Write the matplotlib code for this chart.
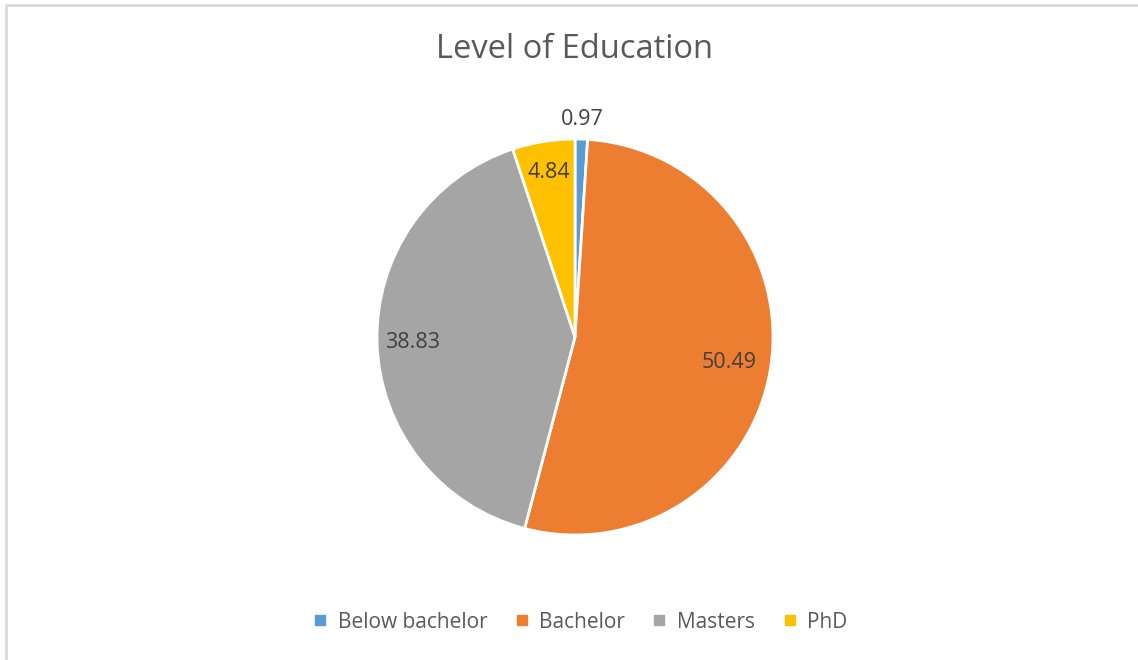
import numpy as np
import matplotlib.pyplot as plt
from matplotlib.lines import Line2D
from matplotlib.patches import Rectangle

categories = ['Below bachelor', 'Bachelor', 'Masters', 'PhD']
values = [0.97, 50.49, 38.83, 4.84]
value_labels = ['0.97', '50.49', '38.83', '4.84']
colors = ['#5B9BD5', '#ED7D31', '#A5A5A5', '#FFC000']
label_dist = [1.10, 0.79, 0.82, 0.84]

plt.rcParams['font.family'] = ['Open Sans', 'DejaVu Sans']

W, H = 1138, 660
fig = plt.figure(figsize=(W / 100, H / 100), dpi=100)

# chart area border (only top/left visible in the original crop)
fig.patches.append(Rectangle((6 / W, -0.1), 1.2, 1 - 5 / H + 0.1, transform=fig.transFigure,
                             fill=False, edgecolor='#d9d9d9', linewidth=2))

cx, cy, r = 575, 337, 198
ax = fig.add_axes([(cx - r) / W, (H - cy - r) / H, 2 * r / W, 2 * r / H])
wedges, _ = ax.pie(values, colors=colors, startangle=90, counterclock=False, radius=1,
                   wedgeprops=dict(edgecolor='white', linewidth=2))
ax.set_xlim(-1, 1)
ax.set_ylim(-1, 1)
ax.set_aspect('equal')
ax.axis('off')

for w, lab, d in zip(wedges, value_labels, label_dist):
    ang = np.deg2rad((w.theta1 + w.theta2) / 2)
    ax.text(d * np.cos(ang), d * np.sin(ang), lab, ha='center', va='center',
            fontsize=15.5, color='#404040', clip_on=False)

fig.text(cx / W, 1 - 50 / H, 'Level of Education', ha='center', va='center',
         fontsize=23.5, color='#595959')

handles = [Line2D([], [], marker='s', linestyle='none', markersize=7,
                  markerfacecolor=c, markeredgecolor=c) for c in colors]
fig.legend(handles, categories, loc='center', bbox_to_anchor=(580 / W, 1 - 622 / H),
           ncol=4, frameon=False, fontsize=15, handlelength=0.7, handletextpad=0.5,
           columnspacing=1.3, labelcolor='#595959')

fig.savefig('out.png', dpi=100)
